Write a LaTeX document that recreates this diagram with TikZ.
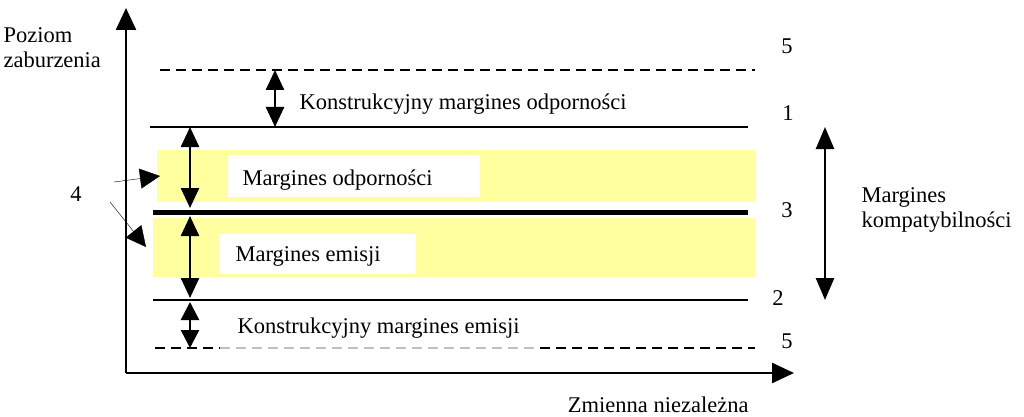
\documentclass[tikz,border=0pt]{standalone}
\usepackage{fontspec}
\setmainfont{Liberation Serif}
\usetikzlibrary{arrows.meta}
\definecolor{pasek}{RGB}{255,255,160}
\begin{document}
\begin{tikzpicture}[x=1pt, y=-1pt, font=\fontsize{22.5}{27}\selectfont]
                \useasboundingbox (0,0) rectangle (1024,417);
                \fill[pasek] (157,150) rectangle (756,202);
                \fill[pasek] (153,218) rectangle (755,277);
                \fill[white] (228,155) rectangle (480,197);
                \fill[white] (219,234) rectangle (416,274);
                \coordinate (O) at (126,373);
                \draw[line width=2.5pt, -{Triangle[length=22pt,width=20pt]}] 
                (O) -- (126,8) coordinate (ytop);
                \draw[line width=2.5pt, -{Triangle[length=22pt,width=20pt]}] 
                (O) -- (794,373) coordinate (xend);
                \draw[line width=2pt, dash pattern=on 10pt off 6pt] 
                (160,70) coordinate (g5) -- (755,70);
                \draw[line width=2pt] (150,127) coordinate (g1) -- (748,127);
                \draw[line width=5pt] (153,212) coordinate (g3) -- (748,212);
                \draw[line width=2pt] (153,300) coordinate (g2) -- (748,300);
                \draw[line width=2pt, dash pattern=on 10pt off 6pt] 
                (155,348) coordinate (d5) -- (220,348);
                \draw[gray!50, line width=2pt, dash pattern=on 10pt off 6pt] 
                (220,348) -- (540,348);
                \draw[line width=2pt, dash pattern=on 10pt off 6pt] 
                (540,348) -- (755,348);
                \draw[line width=2.5pt, {Triangle[length=20pt,width=18pt]}-{Triangle[length=20pt,width=18pt]}] 
                (275,70) -- (275,127);
                \draw[line width=2.5pt, {Triangle[length=20pt,width=18pt]}-{Triangle[length=20pt,width=18pt]}] 
                (190,127) -- (190,208);
                \draw[line width=2.5pt, {Triangle[length=20pt,width=18pt]}-{Triangle[length=20pt,width=18pt]}] 
                (190,216) -- (190,298);
                \draw[line width=2.5pt, {Triangle[length=18pt,width=18pt]}-{Triangle[length=18pt,width=18pt]}] 
                (190,302) -- (190,348);
                \draw[line width=2.5pt, {Triangle[length=22pt,width=18pt]}-{Triangle[length=22pt,width=18pt]}] 
                (825,127) -- (825,300);
                \node[anchor=west] (poziom) at (0,35) {Poziom};
                \node[anchor=west] (zaburzenia) at (0,60) {zaburzenia};
                \node[anchor=west] (kmo) at (296,104) {Konstrukcyjny margines odporności};
                \node[anchor=west] (mo) at (239,180) {Margines odporności};
                \node[anchor=west] (me) at (232,256) {Margines emisji};
                \node[anchor=west] (kme) at (234,328) {Konstrukcyjny margines emisji};
                \node[anchor=west] (mk1) at (858,197) {Margines};
                \node[anchor=west] (mk2) at (858,222) {kompatybilności};
                \node (e5a) at (787,46) {5};
                \node (e1) at (788,113) {1};
                \node (e3) at (787,210) {3};
                \node (e2) at (778,298) {2};
                \node (e5b) at (787,341) {5};
                \node (e4) at (76,194) {4};
                \node[anchor=east] (zn) at (752,405) {Zmienna niezależna};
                \coordinate (s1) at (114,182);
                \coordinate (s2) at (110,202);
                \draw[thin, -{Triangle[length=20pt,width=20pt]}] (s1) -- (160,176);
                \draw[thin, -{Triangle[length=20pt,width=20pt]}] (s2) -- (146,247);
            \end{tikzpicture}
\end{document}
